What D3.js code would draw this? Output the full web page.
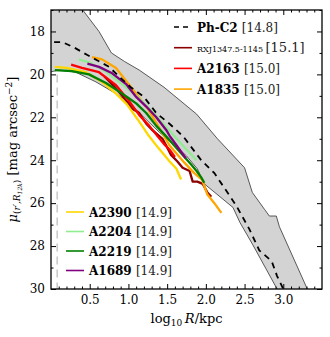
<!DOCTYPE html>
<html>
<head>
<meta charset="utf-8">
<script src="https://cdn.jsdelivr.net/npm/d3@7"></script>
<style>
body { margin: 0; background: #fff; }
text { font-family: "DejaVu Serif", serif; }
</style>
</head>
<body>
<svg></svg>
<script>

// profiles: [log10 R/kpc, mu]
var phc2 = [[0.04,18.5],[0.15,18.5],[0.3,18.75],[0.47,19.1],[0.6,19.35],[0.75,19.65],[0.88,20.1],[1.03,20.6],[1.2,21.05],[1.36,21.8],[1.53,22.3],[1.71,22.9],[1.94,24.0],[2.11,24.6],[2.26,25.4],[2.39,26.1],[2.56,27.2],[2.69,28.2],[2.85,28.7],[2.92,29.4],[3.0,30.0]]
var rxj1347 = [[0.69,20.1],[0.8,20.5],[0.92,21.0],[1.05,21.6],[1.14,21.8],[1.23,22.3],[1.31,22.6],[1.44,23.0],[1.5,23.4],[1.55,23.75],[1.63,24.05],[1.7,24.35],[1.79,24.5],[1.83,25.0],[1.89,25.0],[1.96,25.1],[2.02,25.5],[2.07,25.7]]
var a2163 = [[0.26,19.55],[0.4,19.7],[0.62,19.9],[0.84,20.5],[1.0,21.2],[1.14,21.9],[1.27,22.4],[1.38,22.9],[1.46,23.25],[1.53,23.5],[1.6,23.85]]
var a1835 = [[0.53,19.2],[0.66,19.3],[0.84,19.7],[0.98,20.35],[1.1,20.9],[1.25,21.6],[1.4,22.5],[1.53,23.3],[1.72,24.1],[1.85,24.6],[1.95,24.9],[2.02,25.6],[2.11,26.0],[2.2,26.45]]
var a2390 = [[0.05,19.65],[0.2,19.7],[0.45,19.9],[0.66,20.35],[0.84,20.9],[0.98,21.4],[1.12,22.1],[1.25,22.8],[1.38,23.4],[1.53,24.05],[1.62,24.4],[1.68,24.9]]
var a2204 = [[0.36,19.3],[0.5,19.45],[0.7,19.85],[0.9,20.4],[1.1,21.0],[1.3,21.7],[1.5,22.5],[1.65,23.1],[1.75,23.5],[1.88,24.0]]
var a2219 = [[0.05,19.8],[0.27,19.85],[0.49,20.0],[0.71,20.4],[0.9,20.85],[1.0,21.1],[1.1,21.35],[1.23,21.8],[1.36,22.4],[1.49,22.9],[1.6,23.35],[1.7,23.75],[1.81,24.2],[1.88,24.5],[1.94,24.8],[1.98,25.05]]
var a1689 = [[0.47,19.5],[0.62,19.65],[0.79,19.95],[0.97,20.45],[1.1,21.05],[1.23,21.5],[1.36,22.0],[1.49,22.6],[1.53,22.85],[1.63,23.35],[1.74,23.9]]

// grey band edges
var bandUpper = [[0,17],[0.41,17],[0.62,18.0],[0.78,19.0],[0.95,19.4],[1.14,19.8],[1.46,20.6],[1.88,21.85],[2.15,23.0],[2.5,24.35],[2.6,25.5],[2.76,26.3],[2.82,26.6],[2.91,26.6],[2.95,27.1],[3.31,30]]
var bandLower = [[0,19.88],[0.1,19.8],[0.32,19.9],[0.58,20.35],[0.84,20.9],[1.0,21.3],[1.2,22.0],[1.4,22.7],[1.6,23.3],[1.75,23.8],[1.89,24.4],[1.98,25.1],[2.35,26.2],[2.44,26.9],[2.6,27.9],[2.92,30]]
var innerLimit = 0.08

var xTicks = [0.5, 1.0, 1.5, 2.0, 2.5, 3.0]
var yTicks = [18, 20, 22, 24, 26, 28, 30]

var legendTop = [
  {name: "Ph-C2", mass: "[14.8]", color: "#000", dash: true},
  {name: "RXJ1347.5-1145", mass: "[15.1]", color: "#8b0000", small: true},
  {name: "A2163", mass: "[15.0]", color: "#ff0000"},
  {name: "A1835", mass: "[15.0]", color: "#ffa500"}
]
var legendBottom = [
  {name: "A2390", mass: "[14.9]", color: "#ffd700"},
  {name: "A2204", mass: "[14.9]", color: "#90ee90"},
  {name: "A2219", mass: "[14.9]", color: "#008000"},
  {name: "A1689", mass: "[14.9]", color: "#800080"}
]

var profiles = [
  {data: rxj1347, color: "#8b0000"},
  {data: a2163, color: "#ff0000"},
  {data: a1835, color: "#ffa500"},
  {data: a2390, color: "#ffd700"},
  {data: a2204, color: "#90ee90"},
  {data: a2219, color: "#008000"},
  {data: a1689, color: "#800080"}
]

var margin = {top: 10, right: 8, bottom: 48, left: 51}
var width = 330, height = 337

var svg = d3.select("svg").attr("width", width).attr("height", height)

var x = d3.scaleLinear().domain([0, 3.5]).range([margin.left, width - margin.right])
var y = d3.scaleLinear().domain([17, 30]).range([margin.top, height - margin.bottom])

svg.append("clipPath").attr("id", "clip")
  .append("rect")
  .attr("x", x(0)).attr("y", y(17))
  .attr("width", x(3.5) - x(0)).attr("height", y(30) - y(17))

var line = d3.line().x(d => x(d[0])).y(d => y(d[1]))

var plot = svg.append("g").attr("clip-path", "url(#clip)")

// band
var bandPoly = bandUpper.concat([[3.5, 30]], bandLower.slice().reverse())
plot.append("path")
  .attr("d", line(bandPoly) + "Z")
  .attr("fill", "#d3d3d3")
  .attr("stroke", "none")
plot.selectAll(".edge")
  .data([bandUpper.slice(1), bandLower])
  .join("path")
  .attr("class", "edge")
  .attr("d", line)
  .attr("fill", "none")
  .attr("stroke", "#333")
  .attr("stroke-width", 0.8)

// inner radius limit
plot.append("line")
  .attr("x1", x(innerLimit)).attr("x2", x(innerLimit))
  .attr("y1", y(20)).attr("y2", y(30))
  .attr("stroke", "#c8c8c8")
  .attr("stroke-width", 1.5)
  .attr("stroke-dasharray", "8,5")

plot.selectAll(".prof")
  .data(profiles)
  .join("path")
  .attr("class", "prof")
  .attr("d", d => line(d.data))
  .attr("fill", "none")
  .attr("stroke", d => d.color)
  .attr("stroke-width", 2.3)
  .attr("stroke-linejoin", "round")

plot.append("path")
  .attr("d", line(phc2))
  .attr("fill", "none")
  .attr("stroke", "#000")
  .attr("stroke-width", 1.8)
  .attr("stroke-dasharray", "6,5")

// axes, ticks pointing inward
var xMinor = d3.range(0.1, 3.5, 0.1).filter(v => Math.abs(v * 2 - Math.round(v * 2)) > 0.01)
var yMinor = d3.range(17, 30, 1).filter(v => v % 2 == 1)

function axisStyle(g) {
  g.select(".domain").remove()
  g.selectAll("line").attr("stroke", "#000").attr("stroke-width", 1)
  g.selectAll("text").attr("font-size", "12px").attr("fill", "#000")
    .attr("font-family", "'DejaVu Serif', serif")
}

svg.append("g").attr("transform", `translate(0,${y(30)})`)
  .call(d3.axisBottom(x).tickValues(xTicks).tickSize(-5).tickPadding(6).tickFormat(d3.format(".1f")))
  .call(axisStyle)
svg.append("g").attr("transform", `translate(0,${y(30)})`)
  .call(d3.axisBottom(x).tickValues(xMinor).tickSize(-2.5).tickFormat(""))
  .call(axisStyle)
svg.append("g").attr("transform", `translate(0,${y(17)})`)
  .call(d3.axisTop(x).tickValues(xTicks).tickSize(-5).tickFormat(""))
  .call(axisStyle)
svg.append("g").attr("transform", `translate(0,${y(17)})`)
  .call(d3.axisTop(x).tickValues(xMinor).tickSize(-2.5).tickFormat(""))
  .call(axisStyle)

svg.append("g").attr("transform", `translate(${x(0)},0)`)
  .call(d3.axisLeft(y).tickValues(yTicks).tickSize(-5).tickPadding(6))
  .call(axisStyle)
svg.append("g").attr("transform", `translate(${x(0)},0)`)
  .call(d3.axisLeft(y).tickValues(yMinor).tickSize(-2.5).tickFormat(""))
  .call(axisStyle)
svg.append("g").attr("transform", `translate(${x(3.5)},0)`)
  .call(d3.axisRight(y).tickValues(yTicks).tickSize(-5).tickFormat(""))
  .call(axisStyle)
svg.append("g").attr("transform", `translate(${x(3.5)},0)`)
  .call(d3.axisRight(y).tickValues(yMinor).tickSize(-2.5).tickFormat(""))
  .call(axisStyle)

svg.append("rect")
  .attr("x", x(0)).attr("y", y(17))
  .attr("width", x(3.5) - x(0)).attr("height", y(30) - y(17))
  .attr("fill", "none").attr("stroke", "#000").attr("stroke-width", 1.3)

// axis titles
var xl = svg.append("text")
  .attr("x", (x(0) + x(3.5)) / 2).attr("y", 323)
  .attr("text-anchor", "middle").attr("font-size", "13px")
xl.append("tspan").text("log")
xl.append("tspan").attr("font-size", "9px").attr("dy", 3).text("10")
xl.append("tspan").attr("dy", -3).text("\u2009")
xl.append("tspan").attr("font-style", "italic").text("R")
xl.append("tspan").text("/kpc")

var yl = svg.append("text")
  .attr("transform", `translate(17,${(y(17) + y(30)) / 2}) rotate(-90)`)
  .attr("text-anchor", "middle").attr("font-size", "13px")
yl.append("tspan").attr("font-style", "italic").text("\u03bc")
yl.append("tspan").attr("font-size", "9px").attr("dy", 3).text("(")
yl.append("tspan").attr("font-size", "9px").attr("font-style", "italic").text("r\u2032")
yl.append("tspan").attr("font-size", "9px").text(",")
yl.append("tspan").attr("font-size", "9px").attr("font-style", "italic").text("R")
yl.append("tspan").attr("font-size", "6px").attr("dy", 2).attr("font-style", "italic").text("12k")
yl.append("tspan").attr("font-size", "9px").attr("dy", -2).text(")")
yl.append("tspan").attr("dy", -3).text(" [mag arcsec")
yl.append("tspan").attr("font-size", "9px").attr("dy", -5).text("\u22122")
yl.append("tspan").attr("dy", 5).text("]")

// legends
function drawLegend(items, x0, y0, step) {
  var g = svg.append("g")
  items.forEach(function(d, i) {
    var yy = y0 + i * step
    g.append("line")
      .attr("x1", x0).attr("x2", x0 + 18)
      .attr("y1", yy).attr("y2", yy)
      .attr("stroke", d.color).attr("stroke-width", 1.6)
      .attr("stroke-dasharray", d.dash ? "5,4" : null)
    var t = g.append("text").attr("x", x0 + 23).attr("y", yy + 4.5).attr("font-size", "12px")
    if (d.small) {
      t.append("tspan").attr("font-size", "8px").text(d.name + " ")
      t.append("tspan").attr("font-size", "13px").attr("fill", "#222").text(d.mass)
    } else {
      t.append("tspan").attr("font-weight", "bold").text(d.name + " ")
      t.append("tspan").attr("fill", "#222").text(d.mass)
    }
  })
}
drawLegend(legendTop, 174, 27, 20.7)
drawLegend(legendBottom, 66, 212, 19.5)

</script>
</body>
</html>
